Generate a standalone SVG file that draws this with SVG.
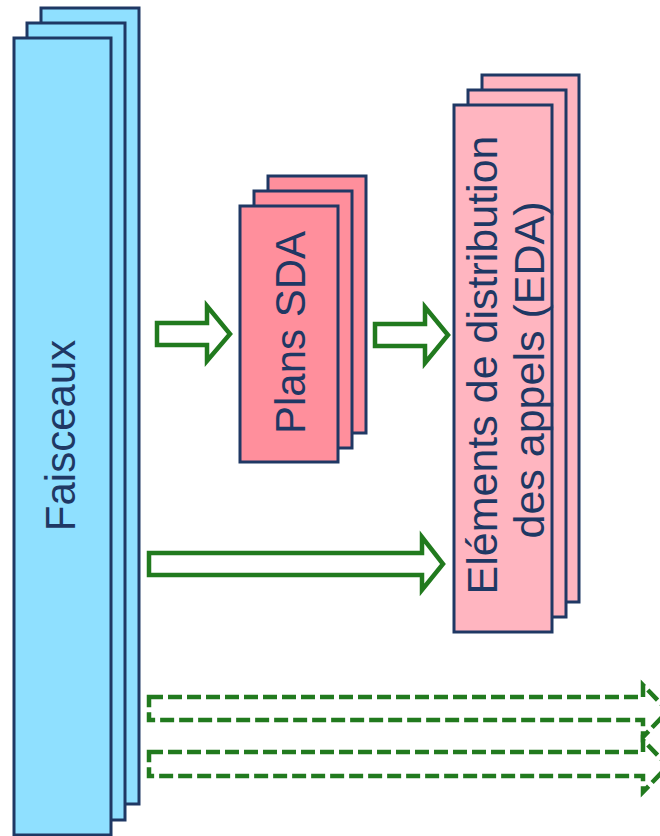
<svg xmlns="http://www.w3.org/2000/svg" width="660" height="836" viewBox="0 0 660 836">
<style>
.blue{fill:#8FE0FF;stroke:#1F3864;stroke-width:3}
.pinkA{fill:#FF8F9C;stroke:#1F3864;stroke-width:3}
.pinkB{fill:#FFB5C0;stroke:#1F3864;stroke-width:3}
.lbl{font-family:"Liberation Sans",Arial,sans-serif;font-size:42px;fill:#1F3864;text-anchor:middle}
.big{font-size:43px}
.arr{fill:#FFFFFF;stroke:#217A1E;stroke-width:4.5;stroke-linejoin:miter}
.darr{fill:#FFFFFF;stroke:#217A1E;stroke-width:4.5;stroke-dasharray:14 5;stroke-linejoin:miter}
</style>
<rect width="660" height="836" fill="#FFFFFF"/>
<g id="faisceaux">
<rect class="blue" x="41" y="8" width="98" height="796"/>
<rect class="blue" x="27" y="23" width="98" height="797"/>
<rect class="blue" x="14" y="38" width="97" height="797"/>
<text class="lbl" transform="translate(75,435.5) rotate(-90)">Faisceaux</text>
</g>
<g id="plans-sda">
<rect class="pinkA" x="268" y="176" width="98" height="257"/>
<rect class="pinkA" x="254" y="191" width="98" height="257"/>
<rect class="pinkA" x="240" y="206" width="98" height="256"/>
<text class="lbl" transform="translate(305,332.5) rotate(-90)">Plans SDA</text>
</g>
<g id="eda">
<rect class="pinkB" x="482" y="75" width="97" height="527"/>
<rect class="pinkB" x="468" y="90" width="98" height="527"/>
<rect class="pinkB" x="454" y="105" width="98" height="527"/>
<text class="lbl big" transform="translate(497,365) rotate(-90)">Eléments de distribution</text>
<text class="lbl big" transform="translate(544,370) rotate(-90)">des appels (EDA)</text>
</g>
<g id="connectors">
<polygon class="arr" points="157,323 207,323 207,306 230,334 207,361 207,345 157,345"/>
<polygon class="arr" points="375,324 425,324 425,307 448,335 425,363 425,346 375,346"/>
<polygon class="arr" points="149,553 422,553 422,537 443,564 422,590 422,575 149,575"/>
<polygon class="darr" points="149,697 643,697 643,685 668,711 643,737 643,720 149,720"/>
<polygon class="darr" points="149,752 643,752 643,740 668,766 643,792 643,776 149,776"/>
</g>
</svg>
